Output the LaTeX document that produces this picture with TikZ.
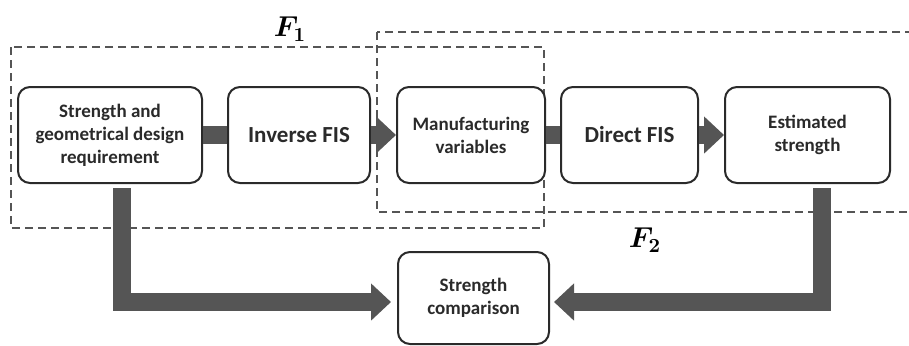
\documentclass[tikz,border=0pt]{standalone}
\usepackage{fontspec}
\setmainfont{Carlito}
\usepackage{amsmath,bm}
\usepackage{tikz}
\usetikzlibrary{arrows.meta}
\definecolor{bargray}{HTML}{555555}
\definecolor{linegray}{HTML}{2A2A2A}

\begin{document}
\begin{tikzpicture}[x=0.5pt,y=-0.5pt,
	box/.style={draw=linegray,line width=1pt,rounded corners=6pt,fill=white,align=center,
		inner sep=0pt,text=linegray,font=\bfseries\fontsize{9.5}{11.5}\selectfont},
	big/.style={font=\bfseries\fontsize{11.5}{14}\selectfont},
	group/.style={draw=bargray,line width=0.75pt,dash pattern=on 4pt off 2.5pt},
	bar/.style={draw=bargray,line width=9pt},
	head/.style={-{Triangle[length=10pt,width=18pt]}}]
\useasboundingbox (0,0) rectangle (909,345);

\draw[group] (11,47) rectangle (544,228);
\draw[group] (377,32) rectangle (920,212);
\node (f1) at (290,29) {\Large$\bm{F_1}$};
\node (f2) at (645,240) {\Large$\bm{F_2}$};

\node[box,minimum width=92pt,minimum height=48pt] (req) at (110,135) {Strength and\\geometrical design\\requirement};
\node[box,big,minimum width=71pt,minimum height=48pt] (inv) at (299,135) {Inverse FIS};
\node[box,minimum width=74pt,minimum height=48pt] (manu) at (471,135) {Manufacturing\\variables};
\node[box,big,minimum width=68.5pt,minimum height=48pt] (dir) at (629.5,135) {Direct FIS};
\node[box,minimum width=82.5pt,minimum height=48pt] (est) at (807.5,135) {Estimated\\strength};
\node[box,minimum width=75.5pt,minimum height=46pt] (cmp) at (473.5,298) {Strength\\comparison};

\draw[bar] (req) -- (inv);
\draw[bar,head] (inv) -- (manu);
\draw[bar] (manu) -- (dir);
\draw[bar,head] (dir) -- (est);
\draw[bar,head,shorten >=3pt] ([xshift=5.75pt,yshift=-2pt]req.south) |- ([yshift=-2pt]cmp.west);
\draw[bar,head,shorten >=2pt] ([xshift=7.25pt,yshift=-2pt]est.south) |- ([yshift=-2pt]cmp.east);
\end{tikzpicture}
\end{document}
